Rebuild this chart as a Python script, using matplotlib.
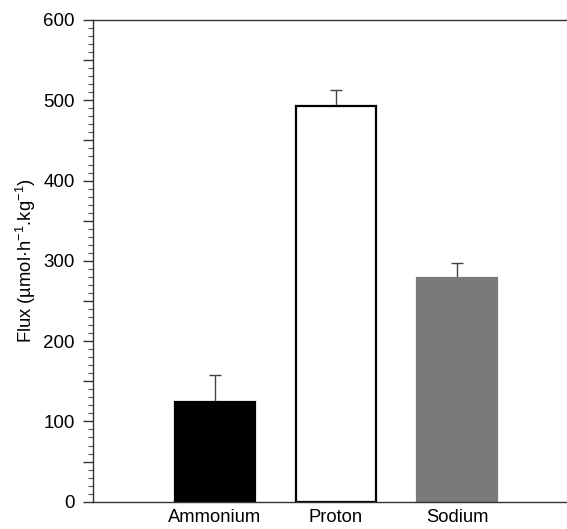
"""
Flux bar chart: ammonium, proton, sodium
"""
import matplotlib
matplotlib.use("Agg")
import matplotlib.pyplot as plt
from matplotlib.ticker import MultipleLocator, FuncFormatter

# values
ions = ['Ammonium', 'Proton', 'Sodium']
flux = [124, 493, 279]
flux_err = [34, 20, 18]
bar_colors = ['black', 'white', '#7a7a7a']
edge_colors = ['black', 'black', '#7a7a7a']

plt.rcParams['font.family'] = ['Liberation Sans', 'DejaVu Sans']
plt.rcParams['mathtext.fontset'] = 'custom'
plt.rcParams['mathtext.rm'] = 'Liberation Sans'
plt.rcParams['mathtext.default'] = 'regular'

fig = plt.figure(figsize=(5.67, 5.29), dpi=100)
# axes runs a bit past the right edge, like the cropped original
ax = fig.add_axes([0.1646, 0.0516, 0.8557, 0.9106])

pos = list(range(len(ions)))
ax.bar(pos, flux, width=0.66, color=bar_colors, edgecolor=edge_colors,
       linewidth=1.6, zorder=2)
ax.errorbar(pos, flux, yerr=[[0] * len(flux_err), flux_err], fmt='none',
            ecolor='#444444', elinewidth=1.0, capsize=4.5, capthick=1.0,
            zorder=1)

ax.set_xlim(-1, 3)
ax.set_ylim(0, 600)
ax.set_xticks(pos)
ax.set_xticklabels(ions, fontsize=13.2)
ax.tick_params(axis='x', length=0, pad=5.5)

ax.yaxis.set_major_locator(MultipleLocator(50))
ax.yaxis.set_minor_locator(MultipleLocator(10))
ax.yaxis.set_major_formatter(
    FuncFormatter(lambda v, p: f"{int(v)}" if v % 100 == 0 else ""))
ax.tick_params(axis='y', which='major', length=7.5, width=1.0,
               labelsize=13.5, pad=6, color='#333333')
ax.tick_params(axis='y', which='minor', length=3.5, width=0.8,
               color='#555555')

ax.set_ylabel('Flux (µmol·h$^{-1}$.kg$^{-1}$)', fontsize=13.2, labelpad=4)

ax.spines['right'].set_visible(False)
for side in ['left', 'bottom', 'top']:
    ax.spines[side].set_linewidth(1.0)
    ax.spines[side].set_color('#333333')

fig.savefig('out.png', dpi=100)
